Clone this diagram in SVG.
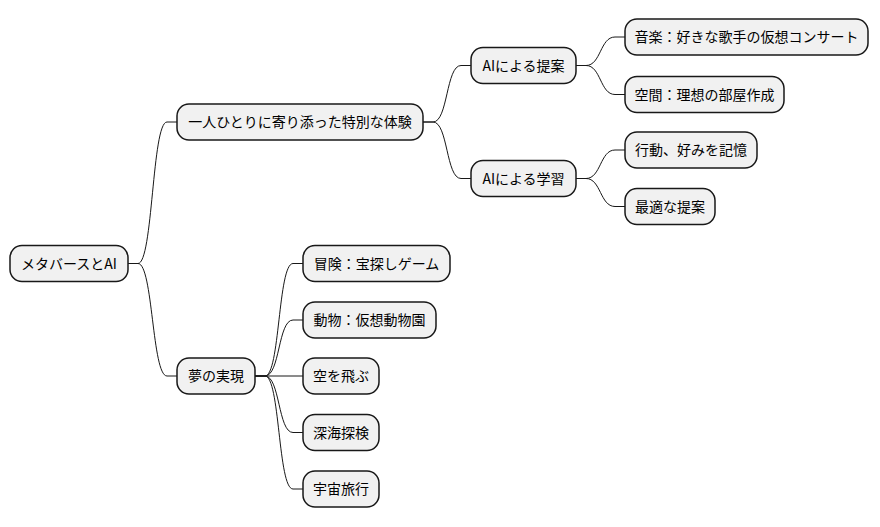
<svg xmlns="http://www.w3.org/2000/svg" width="880" height="527" viewBox="0 0 880 527">
<style>
.n rect{fill:#F1F1F1;stroke:#181818;stroke-width:1.5}
.n text{font-family:"Noto Sans CJK JP","Noto Sans",sans-serif;font-size:14px;fill:#000;text-anchor:middle}
#links path{fill:none;stroke:#181818;stroke-width:1}
</style>
<rect width="880" height="527" fill="#FFFFFF"/>
<g id="links">
<path d="M128,263.5 L138,263.5 C153,263.5 152,122 167,122 L177,122"/>
<path d="M128,263.5 L138,263.5 C153,263.5 152,376 167,376 L177,376"/>
<path d="M423,122 L433,122 C448,122 446,65.5 461,65.5 L471,65.5"/>
<path d="M423,122 L433,122 C448,122 446,178.5 461,178.5 L471,178.5"/>
<path d="M576,65.5 L586,65.5 C601,65.5 600,37 615,37 L625,37"/>
<path d="M576,65.5 L586,65.5 C601,65.5 600,94.5 615,94.5 L625,94.5"/>
<path d="M576,178.5 L586,178.5 C601,178.5 600,150 615,150 L625,150"/>
<path d="M576,178.5 L586,178.5 C601,178.5 600,206.5 615,206.5 L625,206.5"/>
<path d="M255,376 L265,376 C280,376 278,263.5 293,263.5 L303,263.5"/>
<path d="M255,376 L265,376 C280,376 278,320 293,320 L303,320"/>
<path d="M255,376 L303,376"/>
<path d="M255,376 L265,376 C280,376 278,432.5 293,432.5 L303,432.5"/>
<path d="M255,376 L265,376 C280,376 278,489 293,489 L303,489"/>
</g>
<g id="root" class="n"><rect x="10" y="245.5" width="118" height="36" rx="12"/><text x="69" y="268.5">メタバースとAI</text></g>
<g id="taiken" class="n"><rect x="177" y="104" width="246" height="36" rx="12"/><text x="300" y="127">一人ひとりに寄り添った特別な体験</text></g>
<g id="teian" class="n"><rect x="471" y="47.5" width="105" height="36" rx="12"/><text x="523.5" y="70.5">AIによる提案</text></g>
<g id="gakushu" class="n"><rect x="471" y="160.5" width="105" height="36" rx="12"/><text x="523.5" y="183.5">AIによる学習</text></g>
<g id="ongaku" class="n"><rect x="625" y="19" width="243" height="36" rx="12"/><text x="746.5" y="42">音楽：好きな歌手の仮想コンサート</text></g>
<g id="kukan" class="n"><rect x="625" y="76.5" width="159" height="36" rx="12"/><text x="704.5" y="99.5">空間：理想の部屋作成</text></g>
<g id="kodo" class="n"><rect x="625" y="132" width="132" height="36" rx="12"/><text x="691" y="155">行動、好みを記憶</text></g>
<g id="saiteki" class="n"><rect x="625" y="188.5" width="90" height="36" rx="12"/><text x="670" y="211.5">最適な提案</text></g>
<g id="yume" class="n"><rect x="177" y="358" width="78" height="36" rx="12"/><text x="216" y="381">夢の実現</text></g>
<g id="boken" class="n"><rect x="303" y="245.5" width="147" height="36" rx="12"/><text x="376.5" y="268.5">冒険：宝探しゲーム</text></g>
<g id="dobutsu" class="n"><rect x="303" y="302" width="133" height="36" rx="12"/><text x="369.5" y="325">動物：仮想動物園</text></g>
<g id="sora" class="n"><rect x="303" y="358" width="76" height="36" rx="12"/><text x="341" y="381">空を飛ぶ</text></g>
<g id="shinkai" class="n"><rect x="303" y="414.5" width="76" height="36" rx="12"/><text x="341" y="437.5">深海探検</text></g>
<g id="uchu" class="n"><rect x="303" y="471" width="76" height="36" rx="12"/><text x="341" y="494">宇宙旅行</text></g>
</svg>
